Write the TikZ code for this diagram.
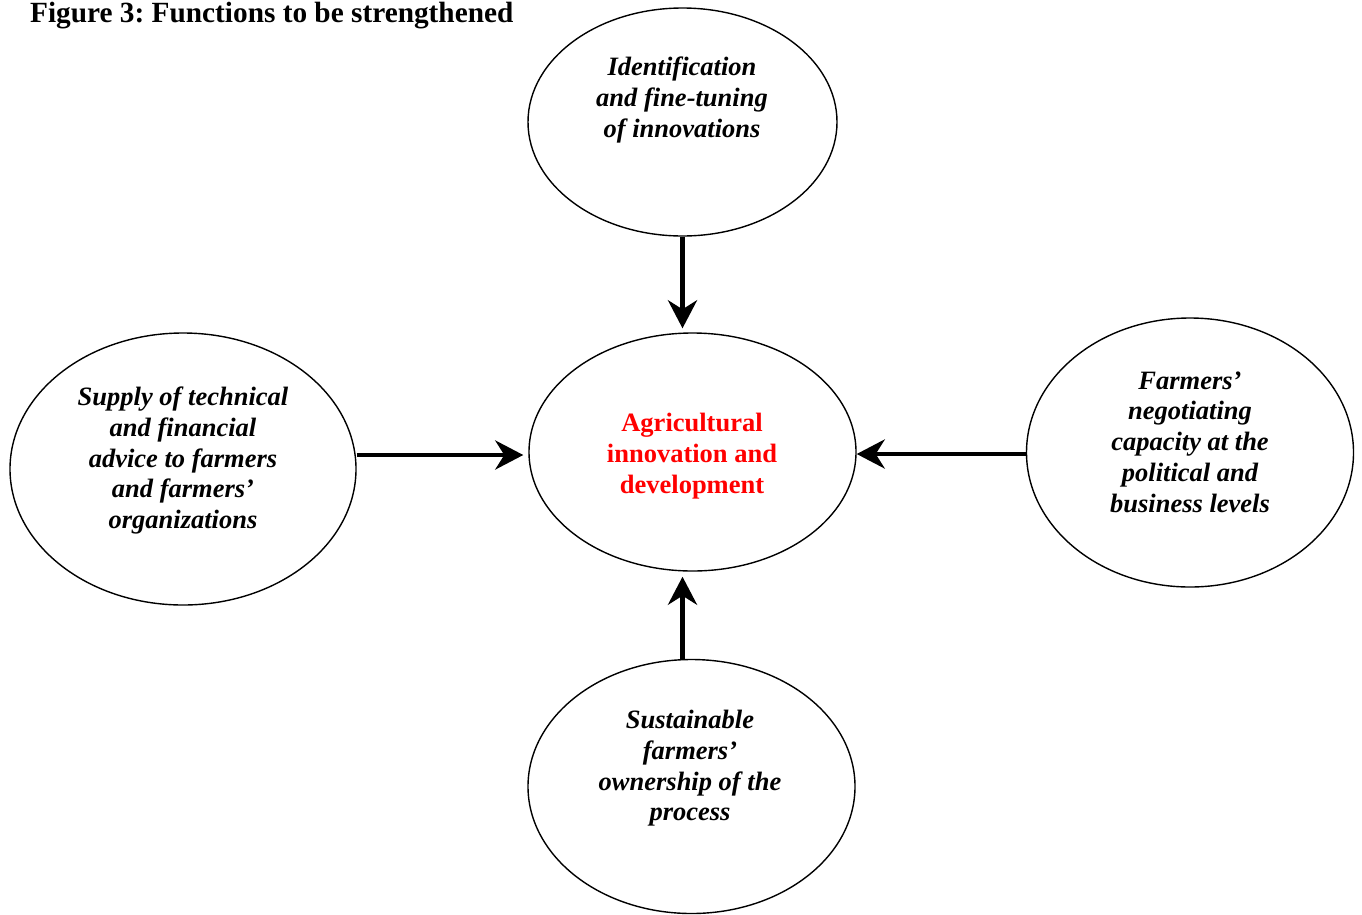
\documentclass[tikz,border=0pt]{standalone}
\usepackage{fontspec}
\setmainfont{Liberation Serif}
\usetikzlibrary{shapes.geometric,arrows.meta}
\definecolor{agred}{RGB}{255,0,0}
\frenchspacing
\tikzset{
  oval/.style={draw=black, line width=1.4pt, shape=ellipse, inner sep=0pt},
  label/.style={align=center, inner sep=0pt, font=\fontsize{26.5}{30.7}\selectfont\bfseries\itshape},
  mainlabel/.style={align=center, inner sep=0pt, text=agred, font=\fontsize{26.5}{30.7}\selectfont\bfseries},
  flow/.style={line width=4.6pt, -{Stealth[length=28pt,width=29pt,inset=9pt]}},
}
\begin{document}
\begin{tikzpicture}[x=1pt,y=-1pt]
\useasboundingbox (0,0) rectangle (1362,914);
\node[anchor=base west, inner sep=0pt, font=\fontsize{29.3}{32}\selectfont\bfseries] (title) at (30,22) {Figure 3: Functions to be strengthened};

\node[oval, minimum width=309pt, minimum height=228pt] (top) at (682.5,122) {};
\node[oval, minimum width=327pt, minimum height=238pt] (mid) at (692.5,452) {};
\node[oval, minimum width=346pt, minimum height=272pt] (left) at (183,469) {};
\node[oval, minimum width=327pt, minimum height=269pt] (right) at (1190,452.5) {};
\node[oval, minimum width=327pt, minimum height=254pt] (bot) at (691.5,786.5) {};

\node[label] (toptext) at (682,100) {Identification\\and fine-tuning\\of innovations};
\node[mainlabel] (midtext) at (692,456) {Agricultural\\innovation and\\development};
\node[label] (lefttext) at (183,460.5) {Supply of technical\\and financial\\advice to farmers\\and farmers’\\organizations};
\node[label] (righttext) at (1190,442) {Farmers’\\negotiating\\capacity at the\\political and\\business levels};
\node[label] (bottext) at (690,768.5) {Sustainable\\farmers’\\ownership of the\\process};

\coordinate (ly) at (0,455);
\coordinate (ry) at (0,454);
\draw[flow, shorten >=4pt] (top.south) -- (mid.north -| top.south);
\draw[flow, shorten >=5pt] (bot.north -| top.south) -- (mid.south -| top.south);
\draw[flow, shorten >=5pt] (left.east |- ly) -- (mid.west |- ly);
\draw[flow] (right.west |- ry) -- (mid.east |- ry);
\end{tikzpicture}
\end{document}
